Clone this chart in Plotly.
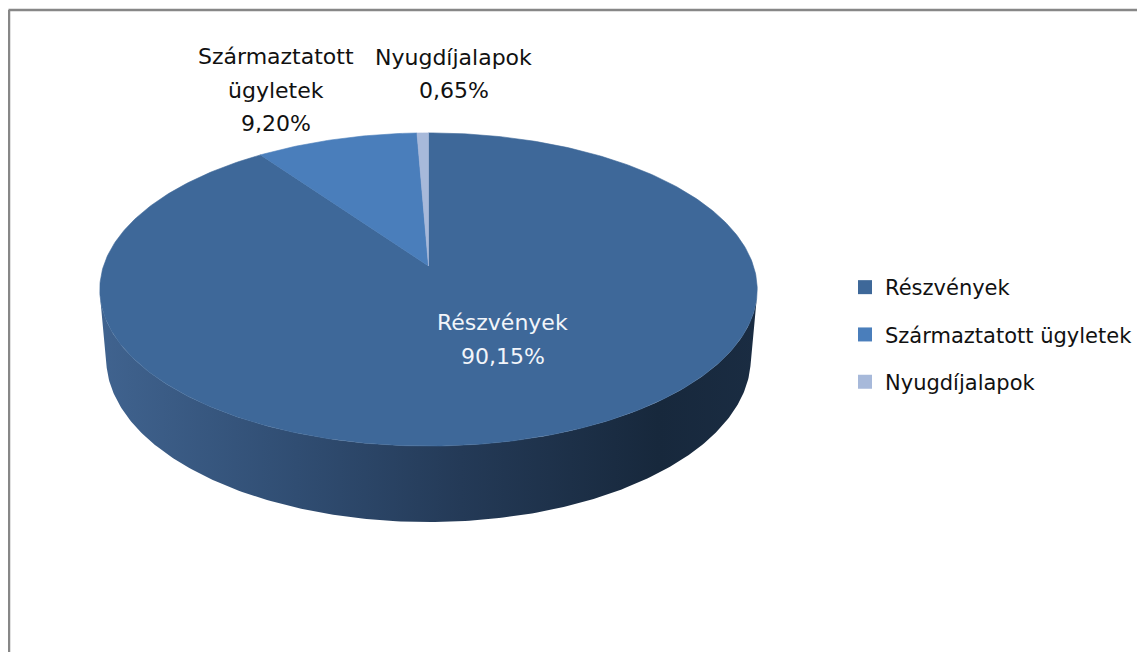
import numpy as np
import plotly.graph_objects as go

# ---- data ----
labels = ["Részvények", "Származtatott ügyletek", "Nyugdíjalapok"]
label_lines = [["Részvények"], ["Származtatott", "ügyletek"], ["Nyugdíjalapok"]]
values = [90.15, 9.20, 0.65]
value_text = ["90,15%", "9,20%", "0,65%"]
colors = ["#3E6899", "#4A7EBB", "#A7B9DA"]

# ---- layout / style parameters ----
W, H = 1145, 652
OFF = 8                        # browser body margin (px)
CX, CY = 428.5, 266.0          # projected pie centre (screen px)
ELEV = np.radians(28.1)        # camera elevation
DIST = 5.88                    # camera distance (in pie radii)
FOCAL = 1911.0                 # focal length (px)
THICK = 0.2425                 # pie thickness (in pie radii)
FONT = "DejaVu Sans"
FS_LABEL = 22
FS_LEGEND = 21
LINE_H = 33.5
LABEL_R = [0.5, 1.0, 1.0]
LABEL_SHIFT = [(21, -5), (-60, -49), (31, -59)]   # px, screen (right, down)
LABEL_COLOR = ["#F2F5FA", "#111111", "#111111"]
SIDE_SCALE = [[0.0, "#40638F"], [0.3, "#304D72"], [0.55, "#243A57"],
              [0.85, "#17283C"], [1.0, "#1A2C42"]]


def project(X, Y, Z):
    se, ce = np.sin(ELEV), np.cos(ELEV)
    yc = Y * se + Z * ce
    zc = DIST + Y * ce - Z * se
    return CX + FOCAL * X / zc, CY - FOCAL * yc / zc


def ang(frac):
    # Excel-style: start at 12 o'clock, clockwise
    return np.pi / 2 - 2 * np.pi * frac


fig = go.Figure()

# ---- side wall (visible front part) ----
ts = np.arcsin(1.0 / (DIST * np.cos(ELEV)))
t = np.linspace(np.pi + ts, 2 * np.pi - ts, 240)
xt, yt = project(np.cos(t), np.sin(t), 0.0)
xb, yb = project(np.cos(t[::-1]), np.sin(t[::-1]), -THICK)
fig.add_trace(go.Scatter(
    x=np.concatenate([xt, xb, xt[:1]]), y=np.concatenate([yt, yb, yt[:1]]),
    mode="lines", line=dict(width=0), fill="toself",
    fillgradient=dict(type="horizontal", colorscale=SIDE_SCALE),
    hoverinfo="skip", showlegend=False))

# ---- top face slices ----
total = sum(values)
cum = np.concatenate([[0], np.cumsum(values)]) / total
cx0, cy0 = project(0.0, 0.0, 0.0)
for i, v in enumerate(values):
    t0, t1 = ang(cum[i]), ang(cum[i + 1])
    n = max(3, int(abs(t1 - t0) * 80))
    tt = np.linspace(t0, t1, n)
    ax, ay = project(np.cos(tt), np.sin(tt), 0.0)
    fig.add_trace(go.Scatter(
        x=np.concatenate([[cx0], ax, [cx0]]), y=np.concatenate([[cy0], ay, [cy0]]),
        mode="lines", line=dict(width=0.6, color=colors[i]), fill="toself",
        fillcolor=colors[i], hoverinfo="skip", showlegend=False))

# ---- data labels ----
for i, v in enumerate(values):
    tm = ang((cum[i] + cum[i + 1]) / 2)
    px, py = project(LABEL_R[i] * np.cos(tm), LABEL_R[i] * np.sin(tm), 0.0)
    lines = label_lines[i] + [value_text[i]]
    n = len(lines)
    for k, txt in enumerate(lines):
        fig.add_annotation(
            x=px, y=py, xref="x", yref="y", text=txt, showarrow=False,
            xanchor="center", yanchor="middle",
            xshift=LABEL_SHIFT[i][0],
            yshift=-(LABEL_SHIFT[i][1] + (k - (n - 1) / 2) * LINE_H),
            font=dict(family=FONT, size=FS_LABEL, color=LABEL_COLOR[i]))

# ---- legend entries ----
for i, lab in enumerate(labels):
    fig.add_trace(go.Scatter(
        x=[None], y=[None], mode="markers", name=lab, legendgroup=lab,
        marker=dict(symbol="square", size=14, color=colors[i])))

# ---- chart border (top & left visible) ----
fig.add_shape(type="line", xref="x", yref="y", x0=8.5, y0=10, x1=W + 20, y1=10,
              line=dict(color="#878787", width=2.5))
fig.add_shape(type="line", xref="x", yref="y", x0=9, y0=10, x1=9, y1=H + 20,
              line=dict(color="#878787", width=2.5))

fig.update_layout(
    width=W, height=H, autosize=False,
    margin=dict(l=0, r=0, t=0, b=0),
    paper_bgcolor="white", plot_bgcolor="white",
    xaxis=dict(range=[OFF, W + OFF], visible=False, fixedrange=True),
    yaxis=dict(range=[H + OFF, OFF], visible=False, fixedrange=True),
    showlegend=True,
    legend=dict(x=(845 - OFF) / W, y=1 - (267 - OFF) / H, xanchor="left", yanchor="top",
                font=dict(family=FONT, size=FS_LEGEND, color="#111111"),
                tracegroupgap=17, bgcolor="rgba(0,0,0,0)", itemsizing="trace"),
    font=dict(family=FONT),
)

fig.write_html("out.html")
